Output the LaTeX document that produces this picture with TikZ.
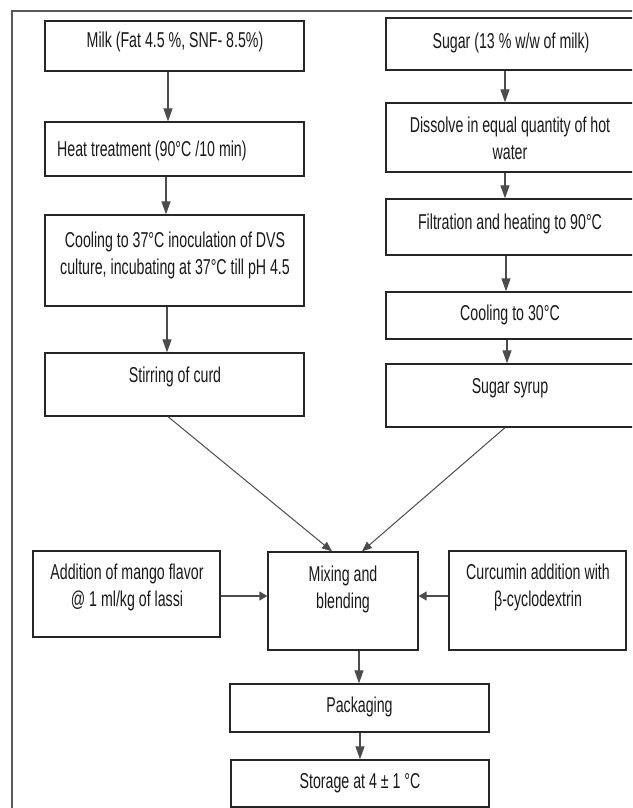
\documentclass[tikz,border=0pt]{standalone}
\usepackage{fontspec}
\setmainfont[FakeStretch=0.66]{Liberation Sans}
\usetikzlibrary{arrows.meta}
\begin{document}
\begin{tikzpicture}[x=1pt,y=-1pt,
  box/.style={draw=black!85, line width=1.3pt, inner sep=0pt},
  txt/.style={font=\fontsize{21.5}{27}\selectfont, align=center, inner sep=0pt, text=black!90},
  arr/.style={draw=black!70, line width=1.1pt, -{Triangle[length=13pt,width=9pt]}},
  harr/.style={draw=black!70, line width=1.3pt, -{Triangle[length=8pt,width=9pt]}},
  darr/.style={draw=black!70, line width=1.0pt, -{Triangle[length=10pt,width=8pt]}},
  frame/.style={draw=black!65, line width=1.5pt}
]
\useasboundingbox (0,0) rectangle (632,808);
\clip (0,0) rectangle (632,808);
\fill[white] (0,0) rectangle (632,808);

% outer frame
\coordinate (fbl) at (12,830);
\coordinate (ftl) at (12,11);
\coordinate (ftr) at (660,11);
\draw[frame] (fbl) -- (ftl) -- (ftr);

% left column
\node[box, minimum width=259, minimum height=50] (milk) at (174.5,46) {};
\node[box, minimum width=259, minimum height=54] (heat) at (174.5,149) {};
\node[box, minimum width=259, minimum height=91] (cool) at (174.5,260.5) {};
\node[box, minimum width=259, minimum height=63] (stir) at (174.5,384.5) {};

% right column
\node[box, minimum width=250, minimum height=52] (sugar) at (511,44) {};
\node[box, minimum width=250, minimum height=69] (dissolve) at (511,137.5) {};
\node[box, minimum width=250, minimum height=56] (filt) at (511,227) {};
\node[box, minimum width=250, minimum height=47] (coolb) at (511,315.5) {};
\node[box, minimum width=250, minimum height=63] (syrup) at (511,395.5) {};

% middle row
\node[box, minimum width=187, minimum height=86] (mango) at (126.5,594) {};
\node[box, minimum width=150, minimum height=98] (mix) at (343,601) {};
\node[box, minimum width=177, minimum height=99] (curc) at (537.5,600.5) {};

% bottom
\node[box, minimum width=259, minimum height=48] (pack) at (359.5,708) {};
\node[box, minimum width=258, minimum height=47] (store) at (360,783.5) {};

% texts
\node[txt] (milkt) at (175,42) {Milk (Fat 4.5 \%, SNF- 8.5\%)};
\node[txt, anchor=west] (heatt) at (57,151) {Heat treatment (90°C /10 min)};
\node[txt] (coolt) at (175,255) {Cooling to 37°C inoculation of DVS\\culture, incubating at 37°C till pH 4.5};
\node[txt] (stirt) at (175,377) {Stirring of curd};
\node[txt] (sugart) at (511,43) {Sugar (13 \% w/w of milk)};
\node[txt] (dissolvet) at (510,138) {Dissolve in equal quantity of hot\\water};
\node[txt] (filtt) at (510,224) {Filtration and heating to 90°C};
\node[txt] (coolbt) at (510,315) {Cooling to 30°C};
\node[txt] (syrupt) at (510,388) {Sugar syrup};
\node[txt] (mangot) at (127,587) {Addition of mango flavor\\@ 1 ml/kg of lassi};
\node[txt] (mixt) at (343,589) {Mixing and\\blending};
\node[txt] (curct) at (538,587) {Curcumin addition with\\β-cyclodextrin};
\node[txt] (packt) at (359.5,707) {Packaging};
\node[txt] (storet) at (360,783) {Storage at 4 ± 1 °C};

% arrows
\draw[arr] ([xshift=-6.5pt]milk.south) -- ([xshift=-6.5pt]milk.south |- heat.north);
\draw[arr] ([xshift=-8.5pt]heat.south) -- ([xshift=-8.5pt]heat.south |- cool.north);
\draw[arr] ([xshift=-7.5pt]cool.south) -- ([xshift=-7.5pt]cool.south |- stir.north);
\draw[arr] ([xshift=-6pt]sugar.south) -- ([xshift=-6pt]sugar.south |- dissolve.north);
\draw[arr] ([xshift=-6pt]dissolve.south) -- ([xshift=-6pt]dissolve.south |- filt.north);
\draw[arr] ([xshift=-5pt]filt.south) -- ([xshift=-5pt]filt.south |- coolb.north);
\draw[arr] ([xshift=-4pt]coolb.south) -- ([xshift=-4pt]coolb.south |- syrup.north);
\draw[darr] ([xshift=-6.5pt]stir.south) -- ([xshift=-11pt]mix.north);
\draw[darr] ([xshift=-6pt]syrup.south) -- ([xshift=19pt]mix.north);
\draw[harr] ([yshift=-2pt]mango.east) -- ([yshift=-2pt]mango.east -| mix.west);
\draw[harr] ([yshift=4.5pt]curc.west) -- ([yshift=4.5pt]curc.west -| mix.east);
\draw[arr] ([xshift=16pt]mix.south) -- ([xshift=16pt]mix.south |- pack.north);
\draw[arr] ([xshift=0.5pt]pack.south) -- ([xshift=0.5pt]pack.south |- store.north);
\end{tikzpicture}
\end{document}
